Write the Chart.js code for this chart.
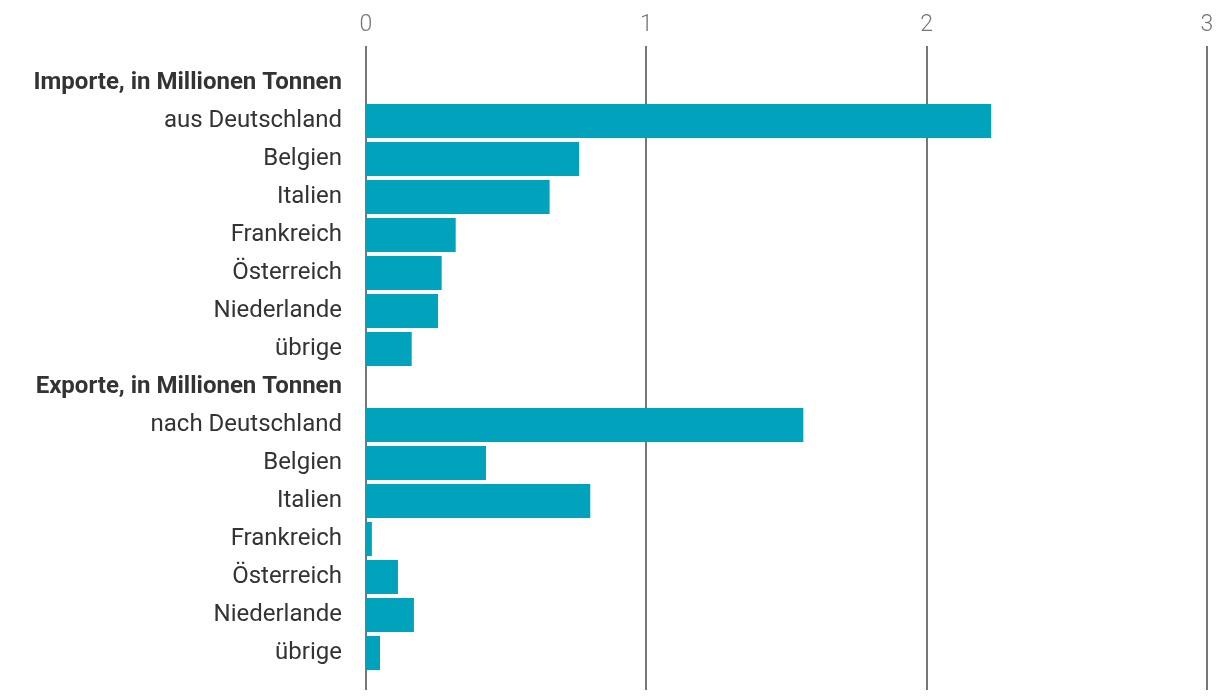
<!DOCTYPE html>
<html>
<head>
<meta charset="utf-8">
<script src="https://cdn.jsdelivr.net/npm/chart.js@4"></script>
<style>
    html, body { margin: 0; padding: 0; background: #fff; }
    #wrap { width: 1220px; height: 700px; }
</style>
</head>
<body>
<div id="wrap"><canvas id="chartHandel"></canvas></div>
<script>
// Kategorien (Kopfzeilen sind fett, ohne Balken)
const categories = [
    'Importe, in Millionen Tonnen',
    'aus Deutschland', 'Belgien', 'Italien', 'Frankreich', 'Österreich', 'Niederlande', 'übrige',
    'Exporte, in Millionen Tonnen',
    'nach Deutschland', 'Belgien', 'Italien', 'Frankreich', 'Österreich', 'Niederlande', 'übrige'
];
const headerRows = [0, 8];

// Werte in Millionen Tonnen
const importValues = [2.23, 0.76, 0.655, 0.32, 0.27, 0.257, 0.163];
const exportValues = [1.56, 0.428, 0.8, 0.021, 0.114, 0.171, 0.05];

const xTicks = [0, 1, 2, 3];

const values = [null, ...importValues, null, ...exportValues];

// Vertical grid lines, a bit longer than the category band
const gridPlugin = {
    id: 'gridLines',
    beforeDatasetsDraw(chart) {
        const { ctx, chartArea, scales } = chart;
        ctx.save();
        ctx.strokeStyle = '#777777';
        ctx.lineWidth = 2;
        xTicks.forEach(t => {
            const x = Math.round(scales.x.getPixelForValue(t));
            ctx.beginPath();
            ctx.moveTo(x, chartArea.top - 18);
            ctx.lineTo(x, chartArea.bottom + 18);
            ctx.stroke();
        });
        ctx.restore();
    }
};

const ctx = document.getElementById('chartHandel').getContext('2d');
new Chart(ctx, {
    type: 'bar',
    data: {
        labels: categories,
        datasets: [{
            data: values,
            backgroundColor: '#00a3bb',
            borderWidth: 0,
            categoryPercentage: 1.0,
            barPercentage: 0.9
        }]
    },
    plugins: [gridPlugin],
    options: {
        indexAxis: 'y',
        responsive: true,
        maintainAspectRatio: false,
        animation: false,
        layout: { padding: { left: 0, right: 13, top: 0, bottom: 28 } },
        plugins: {
            legend: { display: false },
            tooltip: { enabled: false }
        },
        scales: {
            x: {
                position: 'top',
                min: 0,
                max: 3,
                afterBuildTicks: scale => {
                    scale.ticks = xTicks.map(v => ({ value: v }));
                },
                afterFit: scale => {
                    scale.height = 64;
                    scale.paddingLeft = 0;
                    scale.paddingRight = 0;
                },
                grid: { display: false, drawTicks: false },
                border: { display: false },
                ticks: {
                    padding: 25,
                    color: '#777777',
                    font: { family: 'Roboto', size: 23, weight: '300' }
                }
            },
            y: {
                afterFit: scale => {
                    scale.width = 366;
                    scale.paddingTop = 0;
                    scale.paddingBottom = 0;
                },
                grid: { display: false, drawTicks: false },
                border: { display: false },
                ticks: {
                    padding: 24,
                    autoSkip: false,
                    color: '#333333',
                    font: ctx => ({
                        family: 'Roboto',
                        size: 24,
                        weight: headerRows.includes(ctx.index) ? 'bold' : 'normal'
                    })
                }
            }
        }
    }
});
</script>
</body>
</html>
